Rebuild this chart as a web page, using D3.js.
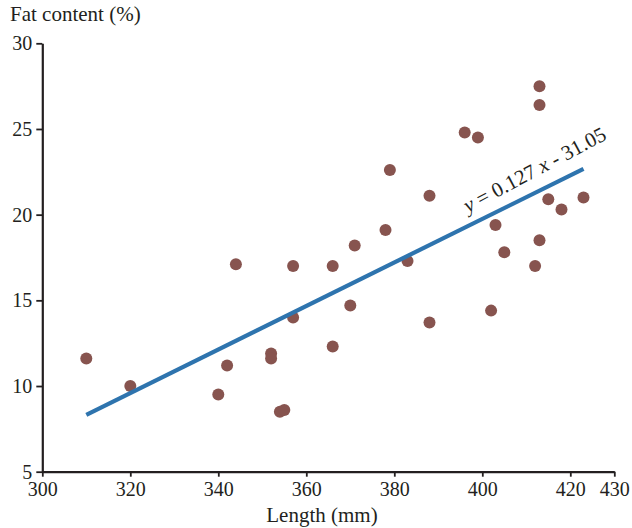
<!DOCTYPE html>
<html>
<head>
<meta charset="utf-8">
<script src="https://cdn.jsdelivr.net/npm/d3@7"></script>
<style>
  body { margin: 0; background: #fff; }
  text { font-family: "Liberation Serif", "Times New Roman", serif; fill: #231f20; }
</style>
</head>
<body>
<script>
// Fish length vs fat content
const lengths = [310, 320, 340, 342, 344, 352, 352, 354, 355, 357, 357, 366, 366, 370, 371,
  378, 379, 383, 388, 388, 396, 399, 402, 403, 405, 412, 413, 413, 413, 415, 418, 423];
const fat = [11.6, 10.0, 9.5, 11.2, 17.1, 11.9, 11.6, 8.5, 8.6, 17.0, 14.0, 17.0, 12.3, 14.7, 18.2,
  19.1, 22.6, 17.3, 21.1, 13.7, 24.8, 24.5, 14.4, 19.4, 17.8, 17.0, 27.5, 26.4, 18.5, 20.9, 20.3, 21.0];
const xTicks = [300, 320, 340, 360, 380, 400, 420, 430];
const yTicks = [5, 10, 15, 20, 25, 30];
const slope = 0.127, intercept = -31.05;
const fitRange = [310, 423];

const width = 632, height = 528;

const svg = d3.select("body").append("svg")
  .attr("width", width)
  .attr("height", height);

const x = d3.scaleLinear().domain([300, 430]).range([42.3, 614.3]);
const y = d3.scaleLinear().domain([5, 30]).range([471.7, 43.3]);

// axes
const xAxis = svg.append("g")
  .attr("transform", `translate(0,${y(5)})`)
  .call(d3.axisBottom(x).tickValues(xTicks).tickSize(5).tickSizeOuter(0).tickPadding(5));
const yAxis = svg.append("g")
  .attr("transform", `translate(${x(300)},0)`)
  .call(d3.axisLeft(y).tickValues(yTicks).tickSize(6).tickSizeOuter(0).tickPadding(4));

[xAxis, yAxis].forEach(g => {
  g.select(".domain").attr("stroke", "#231f20").attr("stroke-width", 2.2);
  g.selectAll(".tick line").attr("stroke", "#231f20").attr("stroke-width", 1.8);
  g.selectAll(".tick text")
    .style("font-family", "'Liberation Serif', 'Times New Roman', serif")
    .style("font-size", "20px")
    .attr("fill", "#231f20");
});

// points
svg.append("g")
  .selectAll("circle")
  .data(lengths.map((l, i) => ({ l, f: fat[i] })))
  .join("circle")
  .attr("cx", d => x(d.l))
  .attr("cy", d => y(d.f))
  .attr("r", 6)
  .attr("fill", "#87544f");

// regression line
svg.append("line")
  .attr("x1", x(fitRange[0]))
  .attr("y1", y(slope * fitRange[0] + intercept))
  .attr("x2", x(fitRange[1]))
  .attr("y2", y(slope * fitRange[1] + intercept))
  .attr("stroke", "#2e74ae")
  .attr("stroke-width", 4.2);

// equation label
const eq = svg.append("text")
  .attr("transform", "translate(468,213) rotate(-28)")
  .style("font-size", "21px");
eq.append("tspan").attr("font-style", "italic").text("y");
eq.append("tspan").text(" = 0.127 ");
eq.append("tspan").attr("font-style", "italic").text("x");
eq.append("tspan").text(" - 31.05");

// axis titles
svg.append("text")
  .attr("x", 10)
  .attr("y", 21)
  .style("font-size", "21px")
  .text("Fat content (%)");

svg.append("text")
  .attr("x", 322)
  .attr("y", 522)
  .attr("text-anchor", "middle")
  .style("font-size", "21px")
  .text("Length (mm)");
</script>
</body>
</html>
